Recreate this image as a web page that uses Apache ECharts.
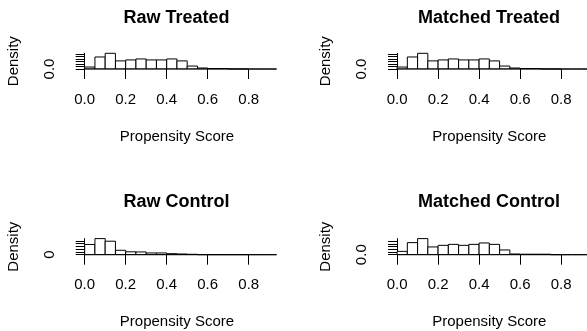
<!DOCTYPE html>
<html>
<head>
<meta charset="utf-8">
<script src="https://cdn.jsdelivr.net/npm/echarts@6/dist/echarts.min.js"></script>
<style>html,body{margin:0;padding:0;background:#fff}#c{width:587px;height:331px}</style>
</head>
<body>
<div id="c"></div>
<script>
// Histogram bin edges (propensity score)
const breaks = [0, 0.05, 0.1, 0.15, 0.2, 0.25, 0.3, 0.35, 0.4, 0.45, 0.5, 0.55, 0.6, 0.65, 0.7, 0.75, 0.8, 0.85, 0.9, 0.95];
// Densities per bin
const rawTreated     = [0.4, 2.45, 3.2, 1.65, 1.85, 2.05, 1.85, 1.85, 2.05, 1.65, 0.6, 0.2, 0.1, 0.1, 0, 0, 0, 0, 0];
const matchedTreated = [0.4, 2.45, 3.2, 1.65, 1.85, 2.05, 1.85, 1.85, 2.05, 1.65, 0.6, 0.2, 0.1, 0.1, 0, 0, 0, 0, 0];
const rawControl     = [3.72, 5.85, 4.9, 1.6, 1.05, 1.0, 0.63, 0.63, 0.37, 0.26, 0.15, 0, 0, 0, 0, 0, 0, 0, 0];
const matchedControl = [0.62, 2.24, 2.99, 1.44, 1.74, 1.92, 1.74, 1.92, 2.18, 1.92, 0.88, 0.13, 0.09, 0.09, 0.09, 0, 0, 0, 0];
// Tick values
const xTicks = [0, 0.2, 0.4, 0.6, 0.8];
const yTicksRawTreated = [0, 0.5, 1, 1.5, 2, 2.5, 3];
const yTicksMatchedTreated = [0, 0.5, 1, 1.5, 2, 2.5, 3];
const yTicksRawControl = [0, 1, 2, 3, 4, 5];
const yTicksMatchedControl = [0, 0.5, 1, 1.5, 2, 2.5];
const titles = ['Raw Treated', 'Matched Treated', 'Raw Control', 'Matched Control'];
const yLabelDigits = [1, 1, 0, 1];

const panelsData = [rawTreated, matchedTreated, rawControl, matchedControl];
const panelsYTicks = [yTicksRawTreated, yTicksMatchedTreated, yTicksRawControl, yTicksMatchedControl];

const FONT = "'Liberation Sans', Arial, sans-serif";
const xMin = -0.036, xMax = 0.936;
const layout = [
  {left: 77.3, top: 53.3, height: 15.7, cx: 176.5, ty: 18.5},
  {left: 389.7, top: 53.3, height: 15.7, cx: 489, ty: 18.5},
  {left: 77.3, top: 238.6, height: 16.1, cx: 176.5, ty: 202.5},
  {left: 389.7, top: 238.6, height: 16.1, cx: 489, ty: 202.5}
];
const gridW = 199.3;

const grids = [], xAxes = [], yAxes = [], series = [], graphics = [];
panelsData.forEach((vals, i) => {
  const L = layout[i];
  grids.push({left: L.left, top: L.top, width: gridW, height: L.height, containLabel: false, outerBoundsMode: 'none'});
  xAxes.push({
    type: 'value', gridIndex: i, min: xMin, max: xMax,
    axisLine: {show: false},
    splitLine: {show: false},
    axisTick: {show: true, length: 10, inside: false, customValues: xTicks, lineStyle: {color: '#000', width: 1}},
    axisLabel: {show: true, customValues: xTicks, margin: 23, color: '#000', fontSize: 15, fontFamily: FONT,
      formatter: v => v.toFixed(1)},
    name: 'Propensity Score', nameLocation: 'middle', nameGap: 60,
    nameTextStyle: {color: '#000', fontSize: 15, fontFamily: FONT}
  });
  const yt = panelsYTicks[i];
  yAxes.push({
    type: 'value', gridIndex: i, min: 0, max: Math.max.apply(null, vals),
    axisLine: {show: true, lineStyle: {color: '#000', width: 1}},
    splitLine: {show: false},
    axisTick: {show: true, length: 9, inside: false, customValues: yt, lineStyle: {color: '#000', width: 1}},
    axisLabel: {show: true, customValues: [0], rotate: 90, margin: 20, color: '#000', fontSize: 15, fontFamily: FONT,
      formatter: v => v.toFixed(yLabelDigits[i])},
    name: 'Density', nameLocation: 'middle', nameGap: 56, nameRotate: 90,
    nameTextStyle: {color: '#000', fontSize: 15, fontFamily: FONT}
  });
  const binData = vals.map((h, k) => [breaks[k], breaks[k + 1], h]);
  series.push({
    type: 'custom', xAxisIndex: i, yAxisIndex: i, silent: true,
    encode: {x: [0, 1], y: 2},
    data: binData,
    renderItem: function (params, api) {
      const cs = params.coordSys;
      const p0 = api.coord([api.value(0), api.value(2)]);
      const p1 = api.coord([api.value(1), 0]);
      const right = cs.x + cs.width;
      if (p0[0] >= right) return null;
      const x1 = Math.min(p1[0], right);
      return {
        type: 'rect',
        shape: {x: p0[0], y: p0[1], width: x1 - p0[0], height: p1[1] - p0[1]},
        style: {fill: '#fff', stroke: '#000', lineWidth: 1}
      };
    }
  });
  series.push({
    type: 'line', xAxisIndex: i, yAxisIndex: i, silent: true, symbol: 'none',
    data: [[xTicks[0], 0], [xTicks[xTicks.length - 1], 0]],
    lineStyle: {color: '#000', width: 1}, z: 3
  });
  graphics.push({
    type: 'text', x: L.cx, y: L.ty,
    style: {text: titles[i], font: "bold 18px " + FONT, fill: '#000',
      align: 'center', verticalAlign: 'middle', textAlign: 'center', textVerticalAlign: 'middle'}
  });
});

const chart = echarts.init(document.getElementById('c'), null, {renderer: 'canvas'});
chart.setOption({
  animation: false,
  backgroundColor: '#fff',
  grid: grids, xAxis: xAxes, yAxis: yAxes, series: series,
  graphic: graphics
});
</script>
</body>
</html>
